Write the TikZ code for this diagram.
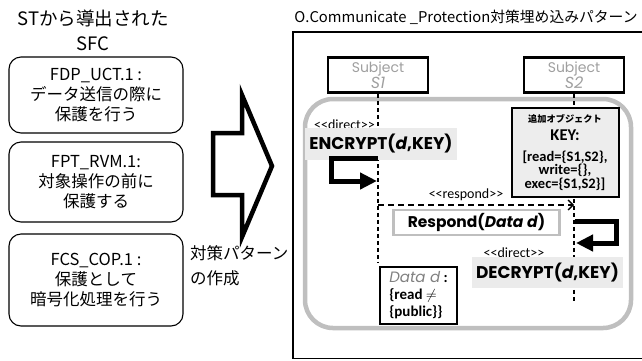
\documentclass[tikz,border=0pt]{standalone}
\usepackage{fontspec}
\setmainfont{Noto Sans CJK JP}
\newfontfamily\geofont{Poppins}
\newfontfamily\calfont{Carlito}
\usepackage{xcolor}
\usetikzlibrary{arrows.meta,positioning}

\definecolor{framegray}{HTML}{BFBFBF}
\definecolor{opgray}{HTML}{EBEBEB}
\definecolor{keygray}{HTML}{EDEDED}

\begin{document}
\begin{tikzpicture}[x=1pt,y=-1pt,
  sfc/.style={draw,rounded corners=12pt,line width=1.1pt,minimum width=174pt,align=center,font=\fontsize{16.5}{20}\selectfont},
  subj/.style={draw,line width=2.6pt,minimum width=100pt,minimum height=35pt,align=center,inner sep=1pt,text=gray!75,font=\geofont\fontsize{14}{16}\selectfont},
  life/.style={dashed,line width=1.3pt,dash pattern=on 4pt off 3pt},
  selfarr/.style={line width=5pt,-{Triangle[length=17pt,width=16pt]}},
  resp/.style={dashed,line width=1.3pt,dash pattern=on 6pt off 4pt,-{Straight Barb[length=5pt,width=10pt,line width=1.3pt]}},
  opbox/.style={fill=opgray,inner sep=0pt,font=\geofont\bfseries\fontsize{17}{20}\selectfont},
  stereo/.style={inner sep=0pt,font=\calfont\fontsize{14}{16}\selectfont},
  keybox/.style={draw,line width=2pt,fill=keygray,minimum width=107pt,minimum height=89pt,align=center,inner sep=2pt,font=\calfont\bfseries\fontsize{14.5}{13.5}\selectfont},
  respbox/.style={draw=framegray,line width=2.6pt,fill=white,minimum width=166pt,minimum height=23pt,font=\geofont\bfseries\fontsize{15.5}{18}\selectfont},
  databox/.style={draw,line width=1.4pt,minimum width=77pt,minimum height=57pt,align=left,inner sep=3pt,font=\calfont\bfseries\fontsize{15}{17}\selectfont},
]
\useasboundingbox (0,0) rectangle (642,360);

% Left column: SFC derived from ST
\node[align=center,font=\fontsize{18.5}{25}\selectfont] (ttl) at (93,30) {STから導出された\\SFC};
\node[sfc,minimum height=76pt] (uct) at (96,95) {FDP\_UCT.1 :\\データ送信の際に\\保護を行う};
\node[sfc,minimum height=80pt] (rvm) at (96,182) {FPT\_RVM.1:\\対象操作の前に\\保護する};
\node[sfc,minimum height=92pt] (cop) at (96,280) {FCS\_COP.1 :\\保護として\\暗号化処理を行う};

% Big arrow
\draw[line width=4.5pt,fill=white,line join=miter] (213,133) -- (242,133) -- (242,95) -- (272,166) -- (242,237) -- (242,195) -- (213,195) -- cycle;
\node[anchor=north west,align=left,inner sep=0pt,font=\fontsize{16.5}{25}\selectfont] (mk) at (190,245) {対策パターン\\の作成};

% Right: embedded pattern
\node[font=\fontsize{14.8}{16}\selectfont] (rttl) at (466,17) {O.Communicate \_Protection対策埋め込みパターン};
\draw[line width=1.2pt] (643,32) -- (293,32) -- (293,358.5) -- (643,358.5);
\draw[framegray,line width=4.5pt,rounded corners=28pt] (305,99) rectangle (631,328);

\node[subj] (s1) at (378,75) {Subject\\{\fontsize{16}{18}\selectfont\itshape S1}};
\node[subj] (s2) at (574,75) {Subject\\{\fontsize{16}{18}\selectfont\itshape S2}};
\coordinate (s1end) at (378,263);
\coordinate (s2end) at (574,302);
\draw[life] (s1.south) -- (s1end);
\draw[life] (s2.south) -- (s2end);

% Encrypt
\node[stereo,anchor=east] (dir1) at (375,125) {<\kern0pt<direct>\kern0pt>};
\node[opbox,minimum width=152pt,minimum height=32pt] (enc) at (381,144) {ENCRYPT(\textit{d},KEY)};
\coordinate (encA) at (378,158);
\coordinate (encB) at (377,181);
\draw[selfarr] (encA) -- (331,158) -- (331,181) -- (encB);

% Key object
\node[keybox] (key) at (565,152.5) {{\rmfamily\fontsize{9.2}{11}\selectfont 追加オブジェクト}\\[5pt]
  {\fontsize{16.5}{19}\selectfont KEY:}\\[7pt]
  \relax[read=\{S1,S2\},\\
  write=\{\},\\
  exec=\{S1,S2\}]};

% Respond
\coordinate (rspA) at (378,205);
\coordinate (rspB) at (574,205);
\draw[resp] (rspA) -- (rspB);
\node[stereo] (rlab) at (466,195) {<\kern0pt<respond>\kern0pt>};
\node[respbox] (rsp) at (476.5,222.5) {Respond(\textit{Data d})};

% Decrypt
\coordinate (decA) at (575,221);
\coordinate (decB) at (576,243);
\draw[selfarr] (decA) -- (616,221) -- (616,243) -- (decB);
\node[stereo] (dir2) at (514,253) {<\kern0pt<direct>\kern0pt>};
\node[opbox,minimum width=151pt,minimum height=31pt] (dec) at (547.5,272.5) {DECRYPT(\textit{d},KEY)};

% Data d
\node[databox] (dat) at (418.5,295.5) {{\geofont\mdseries\itshape\color{gray}Data d} :\\\{read $\neq$\\\{public\}\}};
\end{tikzpicture}
\end{document}
